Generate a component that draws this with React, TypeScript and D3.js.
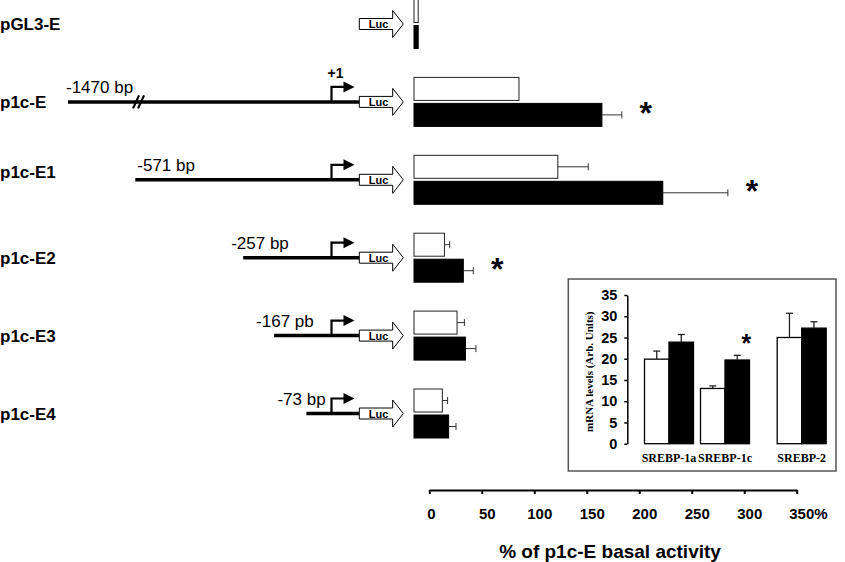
import React, { useEffect, useRef } from "react";
import * as d3 from "d3";

// ---- Data ----
const constructs = ["pGL3-E", "p1c-E", "p1c-E1", "p1c-E2", "p1c-E3", "p1c-E4"];
const upstreamBp: (number | null)[] = [null, -1470, -571, -257, -167, -73];
const bpLabels = ["", "-1470 bp", "-571 bp", "-257 bp", "-167 pb", "-73 bp"];
const basalValues = [4, 100, 137, 29, 41, 27];
const basalErrors = [0, 0, 29, 5, 7, 5];
const treatedValues = [4, 179, 237, 47, 49, 33];
const treatedErrors = [0, 19, 62, 9.5, 10, 7];
const significant = [false, true, true, true, false, false];
const axisTicks = [0, 50, 100, 150, 200, 250, 300, 350];

const insetCategories = ["SREBP-1a", "SREBP-1c", "SREBP-2"];
const insetBasal = [19.9, 13.0, 25.0];
const insetBasalErr = [1.9, 0.6, 5.7];
const insetTreated = [23.9, 19.7, 27.2];
const insetTreatedErr = [1.8, 1.1, 1.5];
const insetSignificant = [false, true, false];
const insetTicks = [0, 5, 10, 15, 20, 25, 30, 35];

// ---- Layout (styling only) ----
const labelDx = [0, -2, 2, -12, -18, -29];
const rowLabelDy = [0, 0, -8, 0, 0, 0];
const SANS = "Arial, 'Liberation Sans', Helvetica, sans-serif";
const SERIF = "'Times New Roman', 'Liberation Serif', Times, serif";

export default function App() {
  const axisRef = useRef<SVGGElement>(null);
  const insetAxisRef = useRef<SVGGElement>(null);

  // scales
  const rowY = d3.scalePoint<string>().domain(constructs).range([24, 413.5]);
  const barX = d3.scaleLinear().domain([0, 350]).range([414, 781.4]);
  const axisX = d3.scaleLinear().domain([0, 350]).range([429.3, 796.7]);
  const bpX = d3.scaleLinear().domain([-1470, -600, 0]).range([68, 125.3, 331.5]);
  const barH = 23;
  const barGap = 1.5;

  const insetY = d3.scaleLinear().domain([0, 35]).range([443.7, 295]);
  const groupX = d3.scaleLinear().domain([0, 1, 2]).range([669, 725, 801.7]);
  const insetBarW = 24.5;

  useEffect(() => {
    if (axisRef.current) {
      const g = d3.select(axisRef.current);
      g.call(
        d3
          .axisBottom(axisX)
          .tickValues(axisTicks)
          .tickSize(4)
          .tickSizeOuter(0)
          .tickPadding(14)
          .tickFormat((d) => (d === 350 ? "350%" : String(d)))
      );
      g.select(".domain").attr("stroke", "#000").attr("stroke-width", 2);
      g.selectAll(".tick line").attr("stroke", "#000").attr("stroke-width", 2);
      g.selectAll(".tick text")
        .attr("font-size", 15)
        .attr("font-weight", "bold")
        .attr("font-family", SANS)
        .attr("fill", "#000")
        .attr("dx", 5);
      g.selectAll<SVGTextElement, number>(".tick text")
        .filter((d) => d === 350)
        .attr("text-anchor", "start")
        .attr("dx", -8);
      g.selectAll<SVGTextElement, number>(".tick text")
        .filter((d) => d === 0)
        .attr("dx", 1.5);
    }
    if (insetAxisRef.current) {
      const g = d3.select(insetAxisRef.current);
      g.call(
        d3
          .axisLeft(insetY)
          .tickValues(insetTicks)
          .tickSize(3)
          .tickSizeOuter(0)
          .tickPadding(7)
      );
      g.select(".domain").attr("stroke", "#000").attr("stroke-width", 1.5);
      g.selectAll(".tick line").attr("stroke", "#000").attr("stroke-width", 1.5);
      g.selectAll(".tick text")
        .attr("font-size", 14.5)
        .attr("font-weight", "bold")
        .attr("font-family", SANS)
        .attr("fill", "#000");
    }
  }, []);

  const promoterX = bpX(0);
  const lucX0 = 359.3;
  const lucBodyX1 = 392.7;
  const lucTip = 403.3;

  const lucArrow = (cy: number) =>
    `M${lucX0},${cy - 5.5}L${lucBodyX1},${cy - 5.5}L${lucBodyX1},${cy - 13.5}L${lucTip},${cy}L${lucBodyX1},${cy + 13.5}L${lucBodyX1},${cy + 5.5}L${lucX0},${cy + 5.5}Z`;

  return (
    <div style={{ position: "fixed", left: 0, top: 0 }}>
      <svg width={845} height={562} style={{ display: "block", background: "#fff" }}>
        {constructs.map((c, i) => {
          const cy = rowY(c) as number;
          const bp = upstreamBp[i];
          const lineY = cy;
          const xs = bp == null ? null : bpX(bp);
          const wTop = cy - barGap - barH;
          const bTop = cy + barGap;
          return (
            <g key={c}>
              {/* row label */}
              <text x={0} y={cy + 6 + rowLabelDy[i]} fontFamily={SANS} fontWeight="bold" fontSize={17}>
                {c}
              </text>
              {/* construct line */}
              {xs != null && (
                <>
                  <line x1={xs} x2={lucX0} y1={lineY} y2={lineY} stroke="#000" strokeWidth={3.5} />
                  <text x={xs + labelDx[i]} y={lineY - 9} fontFamily={SANS} fontSize={17}>
                    {bpLabels[i]}
                  </text>
                  {/* promoter bent arrow */}
                  <path
                    d={`M${promoterX},${lineY}L${promoterX},${lineY - 15}L${promoterX + 13},${lineY - 15}`}
                    fill="none"
                    stroke="#000"
                    strokeWidth={2.2}
                  />
                  <path
                    d={`M${promoterX + 12},${lineY - 20.5}L${promoterX + 23},${lineY - 15}L${promoterX + 12},${lineY - 9.5}Z`}
                    fill="#000"
                  />
                </>
              )}
              {bp === -1470 && (
                <g stroke="#000" strokeWidth={2.2}>
                  <line x1={bpX(-560) - 6} y1={lineY + 6.5} x2={bpX(-560)} y2={lineY - 6.5} />
                  <line x1={bpX(-560) - 1} y1={lineY + 6.5} x2={bpX(-560) + 5} y2={lineY - 6.5} />
                </g>
              )}
              {bp === -1470 && (
                <text
                  x={promoterX + 4}
                  y={lineY - 24}
                  textAnchor="middle"
                  fontFamily={SANS}
                  fontWeight="bold"
                  fontSize={14}
                >
                  +1
                </text>
              )}
              {/* Luc arrow */}
              <path d={lucArrow(cy)} fill="#fff" stroke="#000" strokeWidth={1} />
              <text
                x={378.5}
                y={cy + 4}
                textAnchor="middle"
                fontFamily={SANS}
                fontWeight="bold"
                fontSize={11}
              >
                Luc
              </text>
              {/* basal (white) bar */}
              <rect
                x={barX(0)}
                y={wTop}
                width={barX(basalValues[i]) - barX(0)}
                height={barH}
                fill="#fff"
                stroke="#222"
                strokeWidth={1}
              />
              {basalErrors[i] > 0 && (
                <g stroke="#333" strokeWidth={1}>
                  <line
                    x1={barX(basalValues[i])}
                    x2={barX(basalValues[i] + basalErrors[i])}
                    y1={wTop + barH / 2}
                    y2={wTop + barH / 2}
                  />
                  <line
                    x1={barX(basalValues[i] + basalErrors[i])}
                    x2={barX(basalValues[i] + basalErrors[i])}
                    y1={wTop + barH / 2 - 3.5}
                    y2={wTop + barH / 2 + 3.5}
                  />
                </g>
              )}
              {/* treated (black) bar */}
              <rect
                x={barX(0)}
                y={bTop}
                width={barX(treatedValues[i]) - barX(0)}
                height={barH}
                fill="#000"
                stroke="#000"
                strokeWidth={1}
              />
              {treatedErrors[i] > 0 && (
                <g stroke="#333" strokeWidth={1}>
                  <line
                    x1={barX(treatedValues[i])}
                    x2={barX(treatedValues[i] + treatedErrors[i])}
                    y1={bTop + barH / 2}
                    y2={bTop + barH / 2}
                  />
                  <line
                    x1={barX(treatedValues[i] + treatedErrors[i])}
                    x2={barX(treatedValues[i] + treatedErrors[i])}
                    y1={bTop + barH / 2 - 3.5}
                    y2={bTop + barH / 2 + 3.5}
                  />
                </g>
              )}
              {significant[i] && (
                <text
                  x={barX(treatedValues[i] + treatedErrors[i]) + 24}
                  y={bTop + barH / 2 + 9}
                  textAnchor="middle"
                  fontFamily={SANS}
                  fontWeight="bold"
                  fontSize={32}
                >
                  *
                </text>
              )}
            </g>
          );
        })}

        {/* main axis */}
        <g ref={axisRef} transform="translate(0,490)" />
        <text
          x={610}
          y={557.5}
          textAnchor="middle"
          fontFamily={SANS}
          fontWeight="bold"
          fontSize={19}
        >
          % of p1c-E basal activity
        </text>

        {/* inset */}
        <rect x={568.3} y={279} width={267.7} height={192} fill="#fff" stroke="#555" strokeWidth={1.5} />
        <g ref={insetAxisRef} transform="translate(627.3,0)" />
        <text
          transform="translate(589.3,371.7) rotate(-90)"
          textAnchor="middle"
          dominantBaseline="central"
          fontFamily={SERIF}
          fontWeight="bold"
          fontSize={11}
        >
          mRNA levels (Arb. Units)
        </text>
        {insetCategories.map((cat, i) => {
          const cx = groupX(i);
          const y0 = insetY(0);
          return (
            <g key={cat}>
              <rect
                x={cx - insetBarW}
                y={insetY(insetBasal[i])}
                width={insetBarW}
                height={y0 - insetY(insetBasal[i])}
                fill="#fff"
                stroke="#000"
                strokeWidth={1.3}
              />
              <g stroke="#222" strokeWidth={1.3}>
                <line
                  x1={cx - insetBarW / 2}
                  x2={cx - insetBarW / 2}
                  y1={insetY(insetBasal[i])}
                  y2={insetY(insetBasal[i] + insetBasalErr[i])}
                />
                <line
                  x1={cx - insetBarW / 2 - 3.5}
                  x2={cx - insetBarW / 2 + 3.5}
                  y1={insetY(insetBasal[i] + insetBasalErr[i])}
                  y2={insetY(insetBasal[i] + insetBasalErr[i])}
                />
              </g>
              <rect
                x={cx}
                y={insetY(insetTreated[i])}
                width={insetBarW}
                height={y0 - insetY(insetTreated[i])}
                fill="#000"
                stroke="#000"
                strokeWidth={1.3}
              />
              <g stroke="#222" strokeWidth={1.3}>
                <line
                  x1={cx + insetBarW / 2}
                  x2={cx + insetBarW / 2}
                  y1={insetY(insetTreated[i])}
                  y2={insetY(insetTreated[i] + insetTreatedErr[i])}
                />
                <line
                  x1={cx + insetBarW / 2 - 3.5}
                  x2={cx + insetBarW / 2 + 3.5}
                  y1={insetY(insetTreated[i] + insetTreatedErr[i])}
                  y2={insetY(insetTreated[i] + insetTreatedErr[i])}
                />
              </g>
              {insetSignificant[i] && (
                <text
                  x={cx + insetBarW / 2 + 9}
                  y={insetY(insetTreated[i] + insetTreatedErr[i]) - 3}
                  textAnchor="middle"
                  fontFamily={SANS}
                  fontWeight="bold"
                  fontSize={25}
                >
                  *
                </text>
              )}
              <text
                x={cx}
                y={461.5}
                textAnchor="middle"
                fontFamily={SERIF}
                fontWeight="bold"
                fontSize={12}
              >
                {cat}
              </text>
            </g>
          );
        })}
      </svg>
    </div>
  );
}
